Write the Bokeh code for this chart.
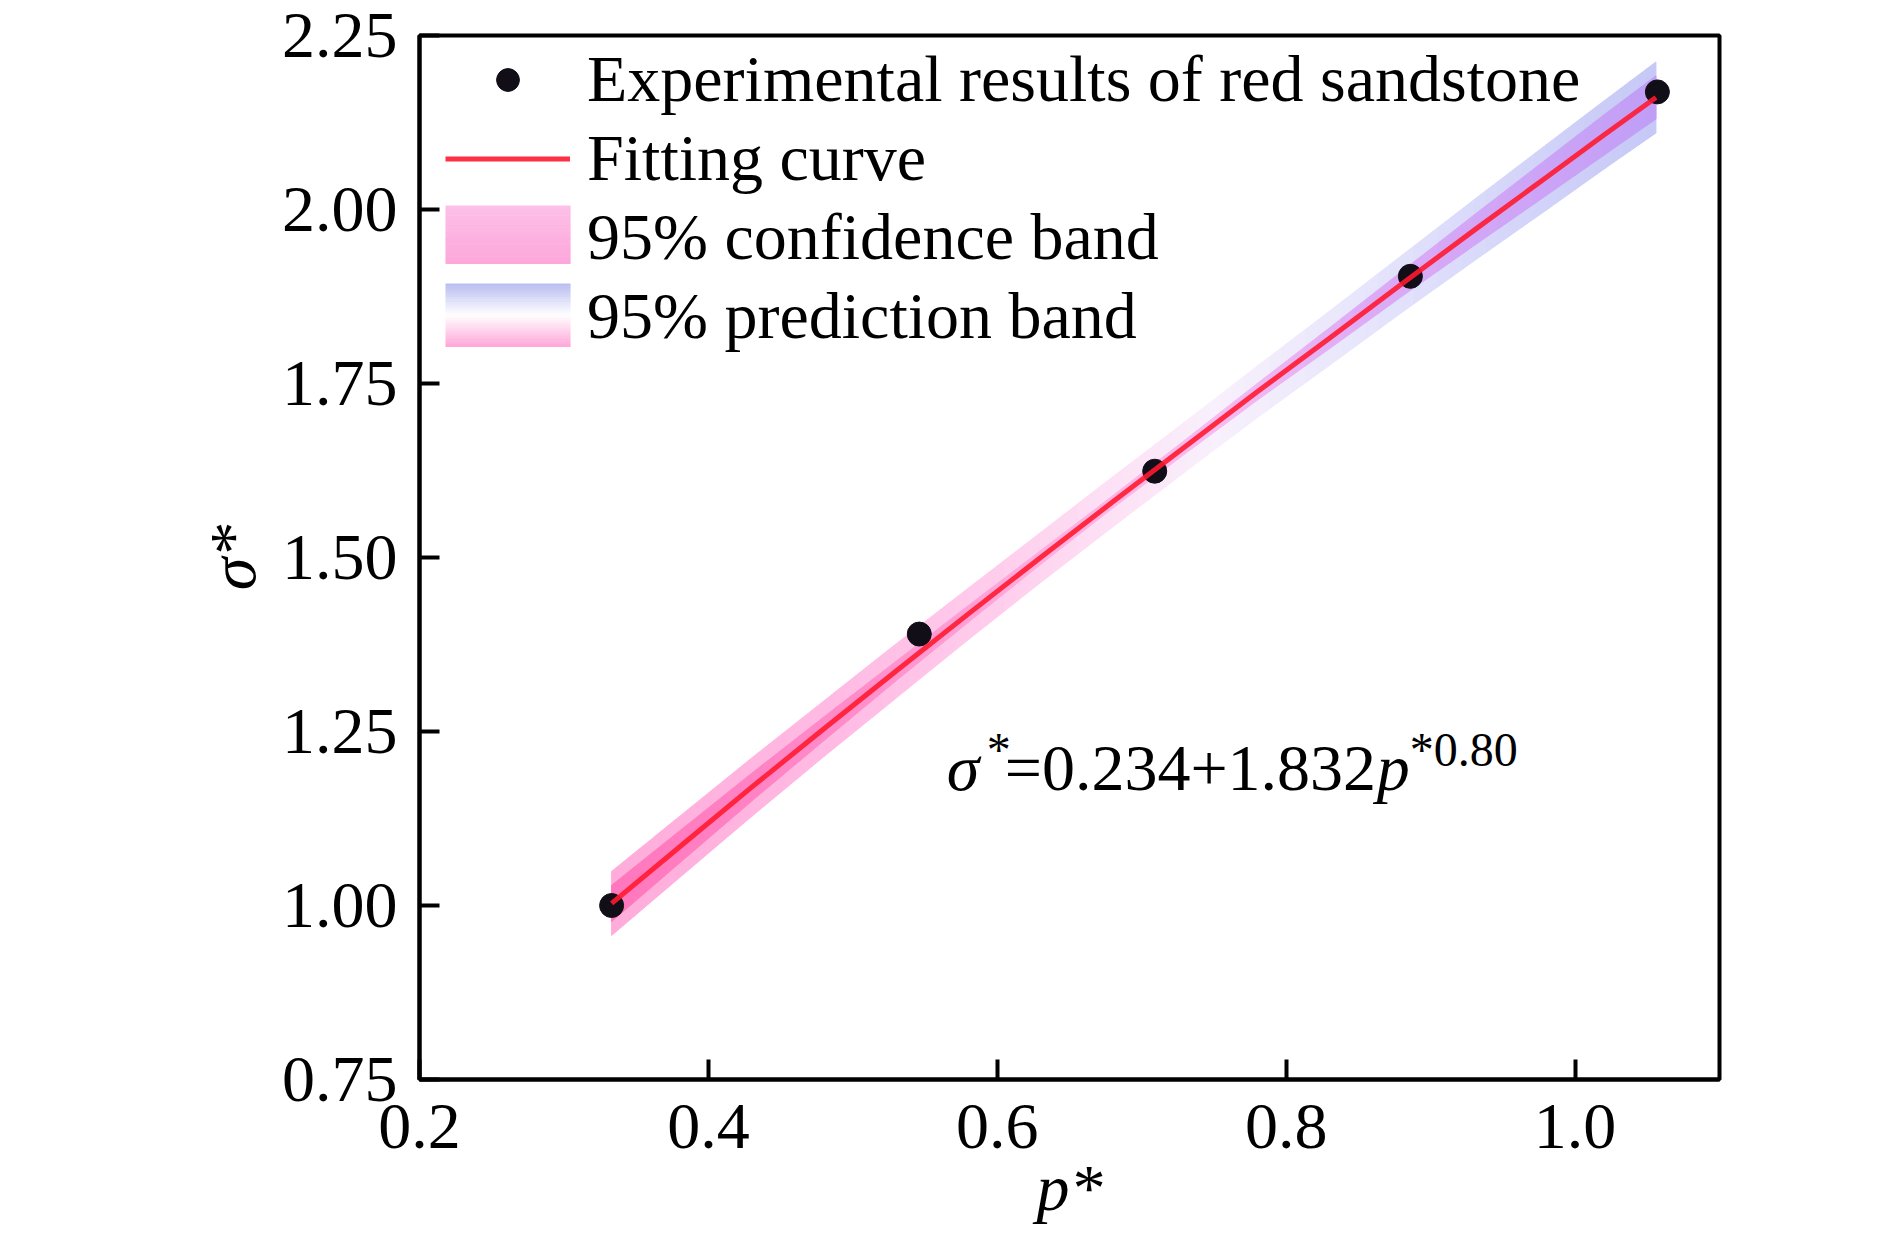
import numpy as np
from bokeh.plotting import figure
from bokeh.models import (Range1d, FixedTicker, NumeralTickFormatter, Legend,
                          LegendItem, Label, BoxAnnotation)
from bokeh.embed import file_html
from bokeh.resources import INLINE

# ---------------- data ----------------
p_exp = [0.333, 0.546, 0.709, 0.886, 1.057]
s_exp = [1.000, 1.390, 1.624, 1.904, 2.169]

fit_p = [0.333, 0.38, 0.43, 0.48, 0.53, 0.58, 0.63, 0.68,
         0.73, 0.78, 0.83, 0.88, 0.93, 0.98, 1.02, 1.056]
fit_s = [1.003, 1.084, 1.170, 1.254, 1.337, 1.419, 1.500, 1.580,
         1.659, 1.738, 1.815, 1.893, 1.970, 2.046, 2.107, 2.161]
conf_half = [0.026, 0.023, 0.020, 0.017, 0.014, 0.012, 0.010, 0.009,
             0.010, 0.012, 0.015, 0.018, 0.022, 0.026, 0.029, 0.031]
pred_half = [0.046, 0.044, 0.042, 0.040, 0.039, 0.037, 0.036, 0.036,
             0.036, 0.037, 0.039, 0.041, 0.044, 0.047, 0.049, 0.051]

x_ticks = [0.2, 0.4, 0.6, 0.8, 1.0]
y_ticks = [0.75, 1.00, 1.25, 1.50, 1.75, 2.00, 2.25]

legend_labels = ["Experimental results of red sandstone", "Fitting curve",
                 "95% confidence band", "95% prediction band"]
eq_texts = ["σ", "*", "=0.234+1.832", "p", "*0.80"]
x_title = "p*"
y_title = "σ*"

FONT = "Liberation Serif"

# ---------------- styles ----------------
pred_stops = [(0.333, (255, 172, 218)), (0.50, (255, 188, 228)), (0.60, (255, 205, 236)),
              (0.68, (253, 225, 245)), (0.75, (248, 240, 252)), (0.85, (232, 230, 252)),
              (0.95, (214, 214, 250)), (1.056, (198, 200, 246))]
conf_stops = [(0.333, (255, 118, 188)), (0.50, (255, 140, 202)), (0.65, (255, 178, 226)),
              (0.75, (246, 188, 240)), (0.85, (222, 172, 246)), (1.056, (192, 158, 246))]
SUB = 6  # colour sub-steps per band segment (same polygon, finer gradient)


def stop_color(stops, x):
    if x <= stops[0][0]:
        c = stops[0][1]
    elif x >= stops[-1][0]:
        c = stops[-1][1]
    else:
        for (xa, ca), (xb, cb) in zip(stops[:-1], stops[1:]):
            if xa <= x <= xb:
                t = (x - xa) / (xb - xa)
                c = tuple(ca[k] + t * (cb[k] - ca[k]) for k in range(3))
                break
    return "#%02x%02x%02x" % tuple(int(round(v)) for v in c)


def mix(c1, c2, t):
    return "#%02x%02x%02x" % tuple(int(round(c1[k] + t * (c2[k] - c1[k]))) for k in range(3))


p = figure(width=1890, height=1251,
           x_range=Range1d(0.2, 1.1), y_range=Range1d(0.75, 2.25),
           output_backend="svg", toolbar_location=None,
           min_border_left=419, min_border_right=171,
           min_border_top=35, min_border_bottom=172,
           x_axis_label=x_title, y_axis_label=y_title)
p.grid.visible = False
p.outline_line_color = "black"
p.outline_line_width = 4
p.background_fill_color = "white"
p.border_fill_color = "white"

for ax in (p.xaxis[0], p.yaxis[0]):
    ax.axis_line_width = 4
    ax.axis_line_color = "black"
    ax.major_tick_in = 20
    ax.major_tick_out = 0
    ax.major_tick_line_width = 4
    ax.minor_tick_in = 0
    ax.minor_tick_out = 0
    ax.major_label_text_font = FONT
    ax.major_label_text_font_size = "66px"
    ax.major_label_text_color = "black"
    ax.axis_label_text_font = FONT
    ax.axis_label_text_font_size = "66px"
    ax.axis_label_text_font_style = "italic"
    ax.axis_label_text_color = "black"

p.xaxis[0].ticker = FixedTicker(ticks=x_ticks)
p.xaxis[0].formatter = NumeralTickFormatter(format="0.0")
p.xaxis[0].major_label_standoff = 25
p.xaxis[0].axis_label_standoff = 0
p.yaxis[0].ticker = FixedTicker(ticks=y_ticks)
p.yaxis[0].formatter = NumeralTickFormatter(format="0.00")
p.yaxis[0].major_label_standoff = 22
p.yaxis[0].axis_label_standoff = 10

# ---------------- bands ----------------
def band_patches(half, stops):
    xs, ys, cols = [], [], []
    for i in range(len(fit_p) - 1):
        x0, x1 = fit_p[i], fit_p[i + 1]
        lo0, lo1 = fit_s[i] - half[i], fit_s[i + 1] - half[i + 1]
        hi0, hi1 = fit_s[i] + half[i], fit_s[i + 1] + half[i + 1]
        for j in range(SUB):
            ta, tb = j / SUB, (j + 1) / SUB
            xa, xb = x0 + ta * (x1 - x0), x0 + tb * (x1 - x0)
            la, lb = lo0 + ta * (lo1 - lo0), lo0 + tb * (lo1 - lo0)
            ha, hb = hi0 + ta * (hi1 - hi0), hi0 + tb * (hi1 - hi0)
            xs.append([xa, xb, xb, xa])
            ys.append([la, lb, hb, ha])
            cols.append(stop_color(stops, 0.5 * (xa + xb)))
    return xs, ys, cols

xs, ys, cols = band_patches(pred_half, pred_stops)
p.patches(xs, ys, fill_color=cols, line_color=cols, line_width=1)
xs, ys, cols = band_patches(conf_half, conf_stops)
p.patches(xs, ys, fill_color=cols, line_color=cols, line_width=1)

r_pts = p.scatter(p_exp, s_exp, size=24, marker="circle",
                  fill_color="#120e18", line_color="#120e18")
r_fit = p.line(fit_p, fit_s, line_color="#ff1a30", line_width=5, line_alpha=0.9)

r_conf = p.varea(x=[], y1=[], y2=[], fill_alpha=0)
r_pred = p.varea(x=[], y1=[], y2=[], fill_alpha=0)

legend = Legend(items=[LegendItem(label=legend_labels[0], renderers=[r_pts]),
                       LegendItem(label=legend_labels[1], renderers=[r_fit]),
                       LegendItem(label=legend_labels[2], renderers=[r_conf]),
                       LegendItem(label=legend_labels[3], renderers=[r_pred])],
                location=(26, 725), orientation="vertical",
                glyph_width=125, glyph_height=57, label_standoff=17,
                spacing=3, padding=0, margin=0,
                background_fill_alpha=0, border_line_alpha=0,
                label_text_font=FONT, label_text_font_size="66px",
                label_text_color="black")
p.add_layout(legend)


# page pixel -> data coordinate helpers (frame: x 419..1719, y 35..1079)
def PX(px):
    return 0.2 + (px - 419) / 1444.0


def PY(py):
    return 0.75 + (1079 - py) / 696.0


# gradient swatches for the band legend entries
n_str = 24
conf_top, conf_bot = (253, 192, 231), (253, 166, 219)
for k in range(n_str):
    y0 = 205 + (263 - 205) * k / n_str
    y1 = 205 + (263 - 205) * (k + 1) / n_str
    c = mix(conf_top, conf_bot, (k + 0.5) / n_str)
    p.add_layout(BoxAnnotation(left=PX(445), right=PX(570), top=PY(y0), bottom=PY(y1 + 0.6),
                               fill_color=c, fill_alpha=1, line_alpha=0))
pred_top, pred_mid, pred_bot = (184, 188, 240), (255, 255, 255), (255, 166, 216)
for k in range(n_str):
    y0 = 283 + (346 - 283) * k / n_str
    y1 = 283 + (346 - 283) * (k + 1) / n_str
    t = (k + 0.5) / n_str
    if t < 0.5:
        c = mix(pred_top, pred_mid, t / 0.5)
    else:
        c = mix(pred_mid, pred_bot, (t - 0.5) / 0.5)
    p.add_layout(BoxAnnotation(left=PX(445), right=PX(570), top=PY(y0), bottom=PY(y1 + 0.6),
                               fill_color=c, fill_alpha=1, line_alpha=0))

# ---------------- equation ----------------
eq_x, eq_y = PX(946), PY(767)
eq_style = [("italic", "66px", 0, 0), ("normal", "48px", 40, 18), ("normal", "66px", 58, 0),
            ("italic", "66px", 430, 0), ("normal", "48px", 463, 18)]
for txt, (st, sz, dx, dy) in zip(eq_texts, eq_style):
    p.add_layout(Label(x=eq_x, y=eq_y, x_offset=dx, y_offset=dy, text=txt,
                       text_font=FONT, text_font_size=sz, text_font_style=st,
                       text_color="black", text_align="left", text_baseline="alphabetic"))

open("out.html", "w").write(file_html(p, INLINE))
